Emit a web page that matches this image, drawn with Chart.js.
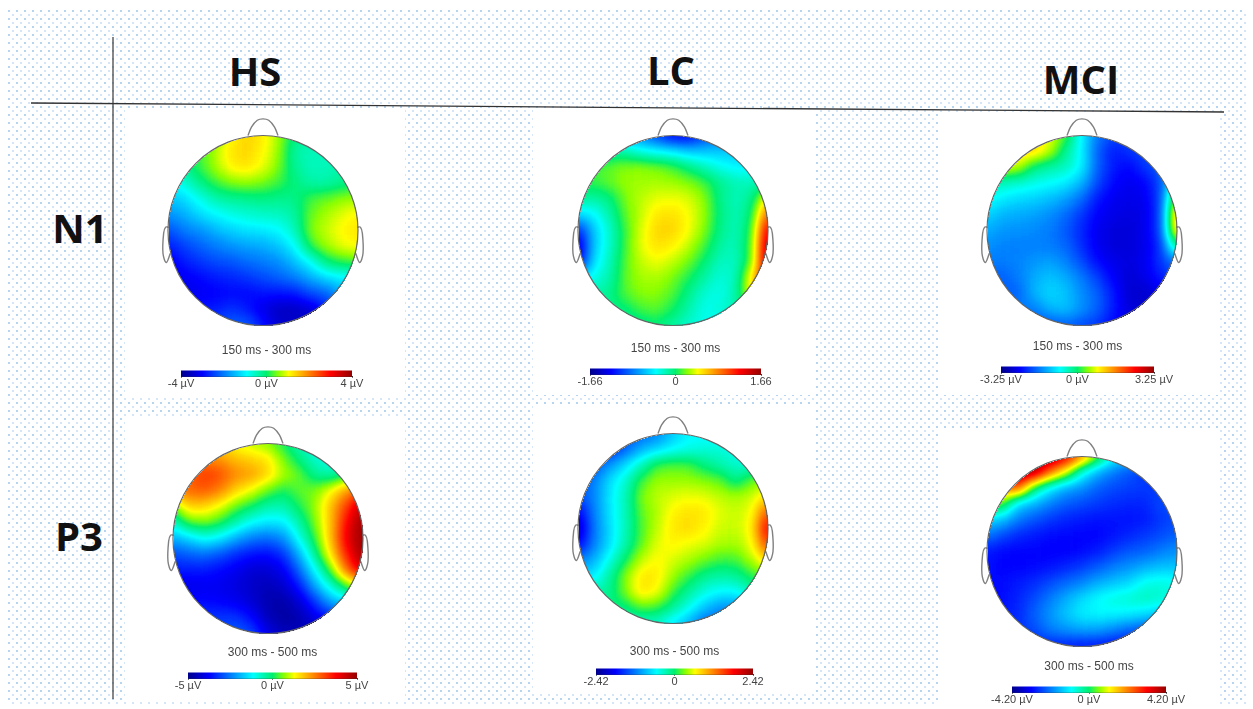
<!DOCTYPE html>
<html>
<head>
<meta charset="utf-8">
<title>N1 and P3 scalp maps</title>
<script src="https://cdn.jsdelivr.net/npm/chart.js@4/dist/chart.umd.min.js"></script>
<style>
  html, body { margin: 0; background: #fff; }
  #page { position: relative; width: 1253px; height: 709px; overflow: hidden; font-family: "Open Sans", sans-serif; }
  #dots {
    position: absolute; left: 8px; top: 10px; width: 1238px; height: 696px;
    background-image:
      radial-gradient(circle at 1px 1px, #8dbde9 0.6px, transparent 0.9px),
      radial-gradient(circle at 5px 5px, #bcd8f2 0.6px, transparent 0.9px);
    background-size: 8px 8px;
  }
  .panel { position: absolute; background: #fff; }
  canvas { position: absolute; }
  .head { position: absolute; font-weight: 700; color: #111; line-height: 1; white-space: nowrap; transform: translateX(-50%); }
  svg { position: absolute; left: 0; top: 0; }
</style>
</head>
<body>
<div id="page">
  <div id="dots"></div>
  <div class="panel" style="left:125px;top:110px;width:280px;height:287px"></div>
  <div class="panel" style="left:533px;top:110px;width:282px;height:285px"></div>
  <div class="panel" style="left:940px;top:112px;width:280px;height:283px"></div>
  <div class="panel" style="left:125px;top:418px;width:280px;height:282px"></div>
  <div class="panel" style="left:533px;top:405px;width:282px;height:288px"></div>
  <div class="panel" style="left:940px;top:430px;width:280px;height:279px"></div>
  <svg width="1253" height="709">
    <line x1="113" y1="37" x2="113" y2="699" stroke="#555" stroke-width="1.4"/>
    <line x1="31" y1="103" x2="1224" y2="112" stroke="#333" stroke-width="1.3"/>
  </svg>
  <div class="head" style="left:255px;top:51px;font-size:40px">HS</div>
  <div class="head" style="left:671px;top:50px;font-size:40px">LC</div>
  <div class="head" style="left:1081px;top:59px;font-size:40px">MCI</div>
  <div class="head" style="left:80px;top:208px;font-size:40px">N1</div>
  <div class="head" style="left:79px;top:516px;font-size:40px">P3</div>

  <canvas id="map0" width="228" height="228" style="left:149px;top:107px"></canvas>
  <canvas id="map1" width="228" height="228" style="left:559px;top:107px"></canvas>
  <canvas id="map2" width="228" height="228" style="left:968px;top:107px"></canvas>
  <canvas id="map3" width="228" height="228" style="left:154px;top:415px"></canvas>
  <canvas id="map4" width="228" height="228" style="left:559px;top:405px"></canvas>
  <canvas id="map5" width="228" height="228" style="left:968px;top:428px"></canvas>

  <canvas id="bar0" width="261" height="51" style="left:136px;top:340px"></canvas>
  <canvas id="bar1" width="261" height="51" style="left:545px;top:338px"></canvas>
  <canvas id="bar2" width="243" height="51" style="left:956px;top:336px"></canvas>
  <canvas id="bar3" width="259" height="51" style="left:143px;top:642px"></canvas>
  <canvas id="bar4" width="247" height="48" style="left:551px;top:641px"></canvas>
  <canvas id="bar5" width="244" height="51" style="left:967px;top:656px"></canvas>
</div>

<script>
// values are positions on the colour bar:
// -10 = left end, 0 = middle, 10 = right end. rows run front of head to back
var hsN1 = [
  [0, 0, .5, 1.2, 2.6, 3.4, 3, 1.6, -.2, -.6, -.8, -1, -1],
  [0, 0, .4, 1.8, 3.1, 3.4, 2.8, 1.5, -.8, -1.2, -1.2, -1.2, -1.2],
  [-.8, -.6, .5, 1.6, 2.9, 3.1, 2.5, 1.2, -.6, -1.2, -1.2, -1, -.6],
  [-2.5, -1.8, -.4, .6, 1.3, 1.5, 1.2, .6, -.2, -.9, -1, -.5, 0],
  [-3.5, -3, -2, -1, -.6, -.4, -.3, -.4, -.4, .6, 1, 1.4, 1.6],
  [-4.5, -4, -3, -2.4, -1.9, -1.6, -1.4, -1.3, -.8, 1, 1.7, 2.3, 2.8],
  [-6, -5, -4.5, -3.8, -3.2, -2.8, -2.7, -2.4, -1.3, 1.2, 2, 2.7, 3.1],
  [-7, -6.2, -5.5, -5, -4.5, -4.2, -4, -3.4, -2.4, .4, 1.6, 2.4, 2.8],
  [-8, -7, -6.5, -6, -5.8, -5.3, -5, -4.6, -3.6, -2.2, -.2, .5, .8],
  [-8, -7.8, -7.4, -7, -6.8, -6.5, -6, -5.5, -5, -4, -3, -2.5, -2.5],
  [-8, -8, -7.8, -7.6, -7.4, -7.4, -7.2, -7.2, -7, -6, -5.5, -4, -4],
  [-7, -7, -7, -7, -6.5, -7, -8, -8.8, -8.8, -8.4, -7, -6, -6],
  [-6, -6, -6, -6, -5.5, -5.5, -7, -8.5, -8.5, -8.5, -8, -8, -8]
];
var lcN1 = [
  [-5, -5, -5, -5, -5, -6.5, -8, -8, -6.5, -5, -5, -5, -5],
  [-1, -1, -1, -1, -2, -2.5, -2.8, -3.5, -3.5, -3.5, -3.5, -3.5, -3],
  [.3, .5, .9, 1.3, 1.4, 1.1, .7, -.3, -1.2, -2, -2.5, -2.5, -2.5],
  [.3, .5, 1, 1.5, 1.6, 1.7, 1.6, 1.3, .7, -.5, -1.1, -1.2, -.8],
  [-.5, -.8, -.3, 1.2, 1.9, 2.3, 2.5, 2.2, 1.4, -.4, -1.2, -.5, 3],
  [-3, -2.5, -1, .9, 2, 3, 3.2, 2.6, 1.5, -.3, -1.2, 0, 6],
  [-7, -3.5, -1.5, .6, 2.2, 3.4, 3.4, 2.6, 1.3, -.4, -1.2, .5, 8.5],
  [-9, -3.5, -1.5, .6, 2.4, 3.2, 2.9, 2, .7, -.8, -1.2, .8, 9.5],
  [-8, -3, -1.2, .8, 2, 2.5, 2, 1.1, -.1, -1.3, -1.4, 1, 9.5],
  [-3, -2, -1, .9, 1.7, 1.8, 1.2, .3, -.8, -1.8, -1.2, 3, 8],
  [-1, -1, -.5, .8, 1.4, 1.4, .8, -.4, -1.6, -2, -1, 3, 6],
  [-1, -1, -.5, -.1, .7, .9, .2, -1, -2, -1.8, -1, 0, 0],
  [-1, -1, -1, -1, -.5, -.2, -.8, -1.5, -2, -2, -2, -2, -2]
];
var mciN1 = [
  [3, 3, 3, 3, 2.5, .8, -2.5, -5, -6, -6, -6, -6, -6],
  [3.5, 3.5, 3.5, 3.5, 2, -.6, -2.5, -5.5, -7, -6.5, -6, -6, -6],
  [2.5, 2.5, 2, -.2, -.8, -1.2, -2.5, -5.5, -7, -7.5, -6.4, -5.5, -3],
  [-1, -1.2, -1.5, -1.9, -2.2, -2.6, -3.7, -6, -7.4, -7.8, -7.5, -6, -.5],
  [-2, -2.6, -3, -3.2, -3.6, -4.2, -5.3, -7, -7.8, -8, -7.8, -6, 2.5],
  [-3, -3.8, -4, -4.2, -4.6, -5.3, -6.4, -7.6, -8, -8.2, -8, -6, 5],
  [-4, -4.4, -4.5, -4.7, -5, -5.7, -6.8, -7.8, -8.3, -8.3, -8, -6, 4.5],
  [-4.5, -4.8, -4.9, -4.9, -5, -5.4, -6.6, -7.8, -8.3, -8.3, -8, -6.5, 0],
  [-5, -5, -4.8, -4.4, -4.2, -4.8, -6, -7.3, -8, -8.2, -7.8, -6.5, -5],
  [-5.5, -5.5, -5, -4, -3.5, -4, -5, -6.2, -7.6, -8.4, -8, -7, -6],
  [-5.5, -5.5, -5.5, -3.8, -3, -3.5, -4.6, -5.5, -7, -8.5, -8.6, -8, -8],
  [-5, -5, -5, -5, -3.8, -3.6, -4.5, -5.5, -7, -8.3, -8.5, -8, -8],
  [-6, -6, -6, -6, -6, -5.5, -6, -6.5, -7.5, -8, -8, -8, -8]
];
var hsP3 = [
  [3, 3, 3, 3, 2.4, 1.8, 1.2, 0, -1.2, -2, -2, -2, -2],
  [4.5, 4.5, 5, 4.6, 3.8, 3.4, 3, 1.2, -.3, -1.5, -2, -2, -2],
  [5.5, 5.5, 6.5, 6, 4.8, 4.4, 3.4, 1.8, 1, -.6, -1, 0, 1.5],
  [4.5, 5.5, 5.8, 5, 3.4, 2.4, 1, .2, .9, 1.2, 2.6, 4.5, 6],
  [1, 3.5, 3.4, 2.4, 1, 0, -1, -1, .2, 1.5, 3.8, 6.5, 9],
  [-1.5, .8, 1.2, .5, -1, -2.2, -2.8, -2.6, -.8, 1.2, 3.8, 7.5, 10],
  [-4, -3, -2, -2.6, -4, -5, -5.3, -4.6, -2, .6, 3.8, 8, 10],
  [-6, -5.5, -5.2, -5.8, -6.6, -7.2, -7.3, -6.5, -3.8, -.5, 3.2, 7, 10],
  [-7, -7, -7, -7.4, -7.8, -8.4, -8.4, -7.8, -5.4, -2.2, 1, 5.5, 8.5],
  [-8, -8, -7.8, -7.8, -8.2, -8.7, -9, -8.6, -7, -4, -1.5, .8, 3],
  [-7.5, -7.5, -7.4, -7.6, -7.8, -8.4, -9.2, -9.4, -8.4, -6.4, -4, -3, -2],
  [-6.5, -6.5, -6.5, -6.5, -6.5, -7.4, -9, -9.5, -9.2, -8, -7, -6, -6],
  [-6, -6, -6, -6, -5.5, -6, -8, -9, -9, -9, -9, -9, -9]
];
var lcP3 = [
  [-7, -7, -6, -6, -5.5, -5, -3.5, -2.5, -2.5, -2.5, -2.5, -2.5, -2.5],
  [-7, -7, -7, -5.6, -4, -3.2, -2.4, -2, -1.8, -1.8, -2, -2, -2],
  [-6, -6, -4.5, -3, -1.3, .5, .8, .7, -.3, -1, -1.6, -1.6, -1.6],
  [-6, -5, -3, -1.6, .6, 1.5, 1.5, 1.5, 1.3, .9, -.4, 1, 1.5],
  [-6, -4.8, -2.8, -1.2, 1.2, 1.9, 2.2, 2.5, 2.3, 1.9, 1.7, 2.1, 3.2],
  [-8, -5, -2.9, -1.2, .9, 1.8, 2.8, 3.2, 3, 2.3, 2, 2.5, 6],
  [-9, -5.2, -3, -1.2, .7, 1.9, 3, 3.3, 2.8, 2.1, 2, 2.8, 8],
  [-8, -5, -3, -1, .9, 2.3, 2.8, 2.5, 2.2, 1.8, 1.7, 2.5, 6.5],
  [-5, -4, -2, 0, 1.9, 2.7, 2.2, 1.8, 1.1, .6, .7, 1.8, 3.5],
  [-3, -2.8, -.8, 1.3, 3, 3, 1.6, .6, -.4, -.8, -.6, .4, 1],
  [-1, -1, -.6, 1.2, 3.2, 2.6, .7, -.6, -1.8, -2.3, -2.3, -1, -1],
  [-.5, -.5, -.3, -.3, 1, .7, -.5, -2, -3.4, -4.5, -4.5, -4, -4],
  [-1.5, -1.5, -1.5, -1.5, -1.5, -1.5, -2.8, -3.8, -5.5, -5.5, -5, -5, -5]
];
var mciP3 = [
  [10, 10, 10, 10, 10, 8.5, 5.5, 1.5, -2, -3, -3, -3, -3],
  [10, 10, 10, 9.5, 5.5, 2.5, -1.8, -3.8, -5, -5.8, -6.5, -6.5, -6.5],
  [5, 5, 6, 0, -2.5, -4, -4.5, -5.5, -6, -6.2, -6.3, -6.3, -6.3],
  [2, 1, -3, -3.8, -4.8, -5.6, -6, -6.3, -6.6, -6.8, -6.8, -6, -6],
  [-3, -3.5, -5, -5.8, -6.4, -6.8, -7, -7.2, -7.2, -7.2, -7, -6.4, -6],
  [-5, -6, -6.7, -7, -7.3, -7.4, -7.5, -7.5, -7.2, -6.8, -6.4, -6, -5.5],
  [-7, -7.4, -7.5, -7.5, -7.6, -7.6, -7.4, -7, -6.3, -5.8, -5.5, -5, -4.5],
  [-7.2, -7.5, -7.5, -7.4, -7.2, -6.8, -6.3, -5.7, -5, -4.5, -4, -3.6, -3.5],
  [-7.3, -7.3, -7, -6.6, -6, -5.4, -4.8, -4, -3.5, -3, -2, -1.8, -2],
  [-7.3, -7.3, -6.8, -6, -5, -4, -3, -2.3, -1.8, -1.5, -1.2, -1.5, -2],
  [-7, -7, -6.7, -5.5, -4.4, -3.4, -2.6, -2.4, -2.5, -2.6, -3, -3.5, -4],
  [-6.5, -6.5, -6.5, -6, -5, -4.5, -4.2, -4.3, -4.8, -5.5, -6, -6, -6],
  [-7, -7, -7, -7, -7, -7, -7.2, -7.2, -7.5, -7.5, -7.5, -7.5, -7.5]
];

var maps = [hsN1, lcN1, mciN1, hsP3, lcP3, mciP3];
var timeWindows = ['150 ms - 300 ms', '150 ms - 300 ms', '150 ms - 300 ms', '300 ms - 500 ms', '300 ms - 500 ms', '300 ms - 500 ms'];
var limits = [4, 1.66, 3.25, 5, 2.42, 4.2];
var tickLabels = [
  ['-4 µV', '0 µV', '4 µV'],
  ['-1.66', '0', '1.66'],
  ['-3.25 µV', '0 µV', '3.25 µV'],
  ['-5 µV', '0 µV', '5 µV'],
  ['-2.42', '0', '2.42'],
  ['-4.20 µV', '0 µV', '4.20 µV']
];
var titleGaps = [13, 13, 13, 13, 10, 13];

// head shape, in units of the head radius
var nose = [[-.158, 1], [-.12, 1.09], [-.06, 1.16], [0, 1.175], [.06, 1.16], [.12, 1.09], [.158, 1]];
var earLeft = [[-.993, .035], [-1.025, .035], [-1.046, -.03], [-1.053, -.24], [-1.018, -.337], [-.975, -.24]];
var earRight = [[.993, .035], [1.025, .035], [1.046, -.03], [1.053, -.24], [1.018, -.337], [.975, -.24]];

// stops
var jet = [
  [0, 0, 0, 140], [.125, 0, 0, 255], [.385, 0, 255, 255], [.5, 0, 240, 110], [.57, 140, 255, 0],
  [.63, 255, 255, 0], [.75, 255, 128, 0], [.875, 255, 0, 0], [1, 150, 0, 0]
];

function jetRgb(t) {
  t = Math.max(0, Math.min(1, t));
  for (var i = 1; i < jet.length; i++) {
    if (t <= jet[i][0]) {
      var a = jet[i - 1], b = jet[i];
      var k = (t - a[0]) / (b[0] - a[0]);
      return [1, 2, 3].map(function(c) {
        return Math.round(a[c] + (b[c] - a[c]) * k);
      });
    }
  }
  return [150, 0, 0];
}

function jetColor(t) {
  return 'rgb(' + jetRgb(t).join(',') + ')';
}

var jetTable = [];
for (var g = 0; g < 256; g++) jetTable.push(jetRgb(g / 255));

function toPoints(list) {
  return list.map(function(p) { return { x: p[0], y: p[1] }; });
}

function outline(list) {
  return {
    type: 'scatter', data: toPoints(list), showLine: true, tension: .35, order: 1,
    borderColor: '#808080', borderWidth: 1.4, pointRadius: 0, clip: false
  };
}

// cells are drawn as grey levels, smoothed, then turned into colours and trimmed to the head
var smoothHead = {
  id: 'smoothHead',
  afterDatasetDraw: function(chart, args) {
    if (args.index !== 0) return;
    var canvas = chart.canvas, ctx = chart.ctx;
    var dpr = chart.currentDevicePixelRatio;
    var cx = chart.scales.x.getPixelForValue(0) * dpr;
    var cy = chart.scales.y.getPixelForValue(0) * dpr;
    var r = (chart.scales.x.getPixelForValue(1) - chart.scales.x.getPixelForValue(0)) * dpr;
    var tmp = document.createElement('canvas');
    tmp.width = canvas.width;
    tmp.height = canvas.height;
    var t = tmp.getContext('2d');
    var z = 1.25;
    t.drawImage(canvas, cx - cx * z, cy - cy * z, canvas.width * z, canvas.height * z);
    t.drawImage(canvas, 0, 0);
    ctx.save();
    ctx.setTransform(1, 0, 0, 1, 0, 0);
    ctx.clearRect(0, 0, canvas.width, canvas.height);
    ctx.filter = 'blur(' + 7 * dpr + 'px)';
    ctx.drawImage(tmp, 0, 0);
    ctx.filter = 'none';
    var img = ctx.getImageData(0, 0, canvas.width, canvas.height);
    for (var py = 0; py < canvas.height; py++) {
      for (var px = 0; px < canvas.width; px++) {
        var i = (py * canvas.width + px) * 4;
        var c = jetTable[img.data[i]];
        var inside = (px - cx) * (px - cx) + (py - cy) * (py - cy) <= r * r;
        img.data[i] = c[0];
        img.data[i + 1] = c[1];
        img.data[i + 2] = c[2];
        img.data[i + 3] = inside ? 255 : 0;
      }
    }
    ctx.putImageData(img, 0, 0);
    ctx.restore();
  },
  afterDatasetsDraw: function(chart) {
    var x = chart.scales.x, y = chart.scales.y, ctx = chart.ctx;
    ctx.save();
    ctx.strokeStyle = '#666';
    ctx.lineWidth = 1.2;
    ctx.beginPath();
    ctx.arc(x.getPixelForValue(0), y.getPixelForValue(0), x.getPixelForValue(1) - x.getPixelForValue(0), 0, Math.PI * 2);
    ctx.stroke();
    ctx.restore();
  }
};

function drawMap(id, grid) {
  var cells = [], greys = [];
  grid.forEach(function(row, j) {
    row.forEach(function(v, i) {
      var g = Math.round((v + 10) / 20 * 255);
      cells.push({ x: i / 6 - 1, y: 1 - j / 6 });
      greys.push('rgb(' + g + ',' + g + ',' + g + ')');
    });
  });
  new Chart(document.getElementById(id), {
    type: 'scatter',
    plugins: [smoothHead],
    data: {
      datasets: [
        {
          data: cells, order: 5, pointStyle: 'rect', backgroundColor: greys, borderWidth: 0,
          pointRadius: function(c) {
            var s = c.chart.scales.x;
            return (s.getPixelForValue(1 / 6) - s.getPixelForValue(0)) / 2 * Math.SQRT2 + .7;
          }
        },
        outline(nose), outline(earLeft), outline(earRight)
      ]
    },
    options: {
      responsive: false, animation: false, events: [],
      layout: { padding: 0 },
      plugins: { legend: { display: false }, tooltip: { enabled: false } },
      scales: {
        x: { type: 'linear', display: false, min: -1.2, max: 1.2 },
        y: { type: 'linear', display: false, min: -1.1, max: 1.3 }
      }
    }
  });
}

function drawBar(id, limit, labels, timeWindow, gap) {
  new Chart(document.getElementById(id), {
    type: 'bar',
    data: {
      labels: [timeWindow],
      datasets: [{
        data: [[-limit, limit]], barPercentage: 1, categoryPercentage: 1,
        backgroundColor: function(c) {
          var area = c.chart.chartArea;
          if (!area) return '#000';
          var g = c.chart.ctx.createLinearGradient(area.left, 0, area.right, 0);
          jet.forEach(function(s) { g.addColorStop(s[0], jetColor(s[0])); });
          return g;
        }
      }]
    },
    options: {
      indexAxis: 'y', responsive: false, animation: false, events: [],
      layout: { padding: { left: 45, right: 45 } },
      plugins: {
        legend: { display: false }, tooltip: { enabled: false },
        title: {
          display: true, text: timeWindow, color: '#444',
          font: { family: 'Liberation Sans', size: 12, weight: 'normal' },
          padding: { top: 3, bottom: gap }
        }
      },
      scales: {
        y: { display: false },
        x: {
          type: 'linear', min: -limit, max: limit,
          border: { display: true, color: '#333', width: 1 },
          grid: { drawOnChartArea: false, tickLength: 1, tickColor: '#555' },
          afterBuildTicks: function(axis) {
            axis.ticks = [{ value: -limit }, { value: 0 }, { value: limit }];
          },
          ticks: {
            autoSkip: false, maxRotation: 0, padding: 0, color: '#444',
            font: { family: 'Liberation Sans', size: 11 },
            callback: function(value, index) { return labels[index]; }
          }
        }
      }
    }
  });
}

maps.forEach(function(grid, i) {
  drawMap('map' + i, grid);
  drawBar('bar' + i, limits[i], tickLabels[i], timeWindows[i], titleGaps[i]);
});
</script>
</body>
</html>
